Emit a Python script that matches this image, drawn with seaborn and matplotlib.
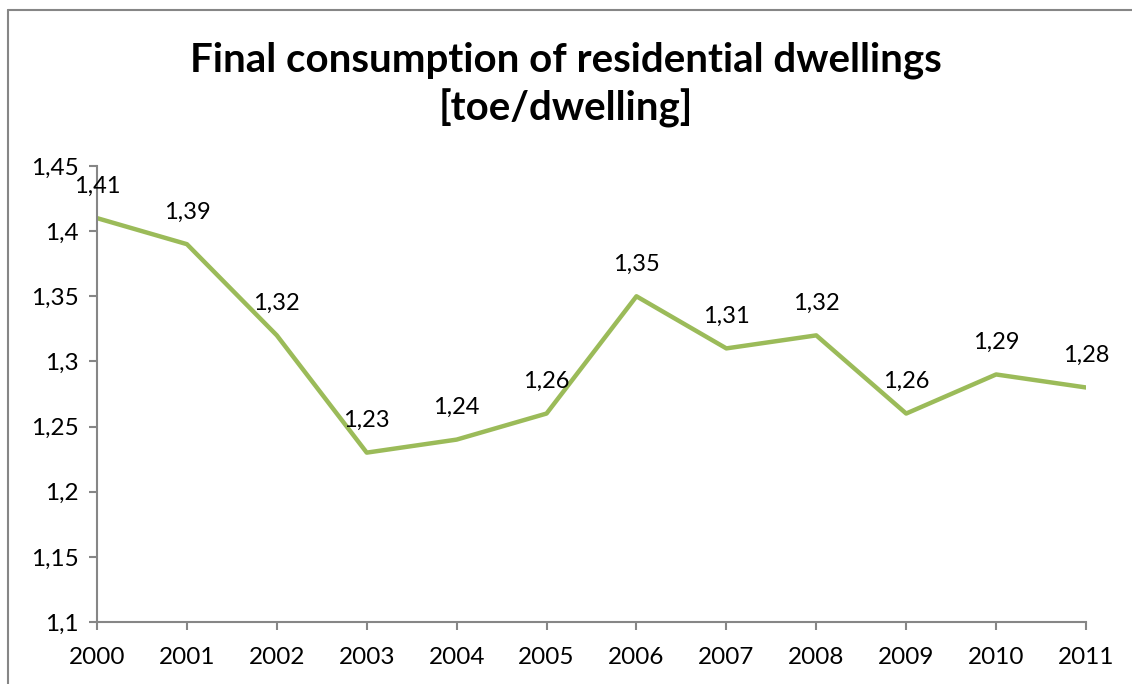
import matplotlib
matplotlib.use("Agg")
import matplotlib.pyplot as plt
import seaborn as sns
import pandas as pd
from matplotlib.lines import Line2D
from matplotlib.ticker import FuncFormatter

years = [2000, 2001, 2002, 2003, 2004, 2005, 2006, 2007, 2008, 2009, 2010, 2011]
consumption = [1.41, 1.39, 1.32, 1.23, 1.24, 1.26, 1.35, 1.31, 1.32, 1.26, 1.29, 1.28]
y_ticks = [1.1, 1.15, 1.2, 1.25, 1.3, 1.35, 1.4, 1.45]

LINE_COLOR = "#9BBB59"
AXIS_COLOR = "#868686"


def comma_fmt(v, pos=None):
    s = f"{v:.2f}".rstrip("0").rstrip(".")
    return s.replace(".", ",")


def main():
    sns.set_style("white")
    plt.rcParams["font.family"] = ["Lato", "DejaVu Sans"]
    plt.rcParams["text.color"] = "black"

    df = pd.DataFrame({"year": years, "toe": consumption})

    fig = plt.figure(figsize=(11.32, 6.84), dpi=100)
    ax = fig.add_axes([97 / 1132, 1 - 622 / 684, (1086 - 97) / 1132, (622 - 166) / 684])

    sns.lineplot(data=df, x="year", y="toe", color=LINE_COLOR, linewidth=3.2, ax=ax)

    for x, y in zip(years, consumption):
        ax.annotate(comma_fmt(y), (x, y), xytext=(0, 23), textcoords="offset points",
                    ha="center", va="center", fontsize=17, color="black")

    ax.set_xlim(years[0], years[-1])
    ax.set_ylim(1.1, 1.45)
    ax.set_xticks(years)
    ax.set_xticklabels([str(y) for y in years])
    ax.set_yticks(y_ticks)
    ax.yaxis.set_major_formatter(FuncFormatter(comma_fmt))
    ax.set_xlabel("")
    ax.set_ylabel("")
    ax.grid(False)

    for side in ("top", "right"):
        ax.spines[side].set_visible(False)
    for side in ("left", "bottom"):
        ax.spines[side].set_color(AXIS_COLOR)
        ax.spines[side].set_linewidth(1.5)
    ax.tick_params(axis="both", which="major", direction="out", length=6, width=1.5,
                   color=AXIS_COLOR, labelsize=17.5, labelcolor="black",
                   left=True, bottom=True)
    ax.tick_params(axis="x", pad=12)
    ax.tick_params(axis="y", pad=7)

    fig.text(0.5, 1 - 60 / 684, "Final consumption of residential dwellings",
             ha="center", va="center", fontsize=29, fontweight="bold", color="black")
    fig.text(0.5, 1 - 108 / 684, "[toe/dwelling]",
             ha="center", va="center", fontsize=29, fontweight="bold", color="black")

    # chart frame (cropped on right and bottom)
    fig.add_artist(Line2D([8 / 1132, 8 / 1132], [0, 1 - 9.5 / 684], transform=fig.transFigure,
                          color=AXIS_COLOR, linewidth=1.5))
    fig.add_artist(Line2D([8 / 1132, 1], [1 - 9.5 / 684, 1 - 9.5 / 684], transform=fig.transFigure,
                          color=AXIS_COLOR, linewidth=1.5))

    fig.savefig("out.png", dpi=100)
    plt.close(fig)


if __name__ == "__main__":
    main()
